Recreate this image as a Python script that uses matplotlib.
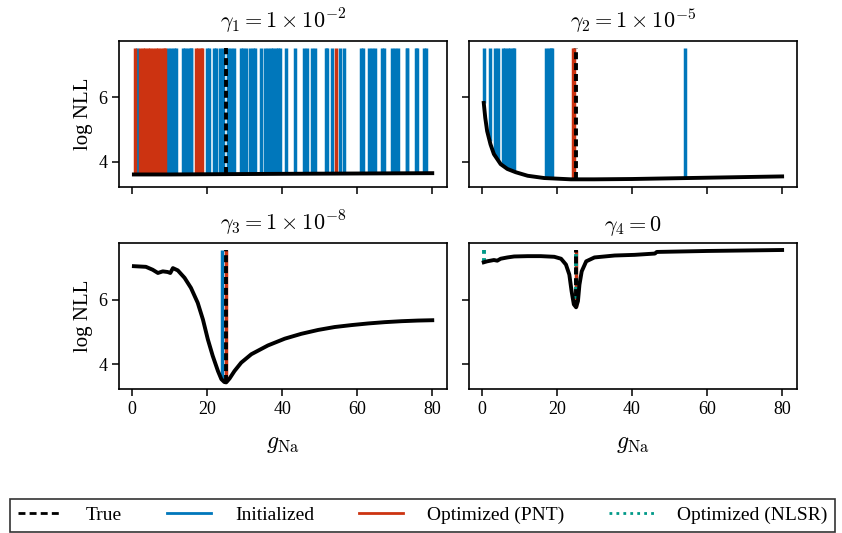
import numpy as np
import matplotlib
matplotlib.use("Agg")
import matplotlib.pyplot as plt
from matplotlib.lines import Line2D

plt.rcParams['font.family'] = ['Liberation Serif', 'DejaVu Serif']
plt.rcParams['mathtext.fontset'] = 'cm'

# loss curves (log NLL vs g_Na) for each regularisation strength
x1 = [0.5, 10, 25, 40, 60, 80]
nll1 = [3.61, 3.61, 3.62, 3.63, 3.64, 3.65]

x2 = [0.5, 0.9, 1.4, 2.3, 3.2, 5.0, 6.8, 9.0, 12.2, 16.6, 23.7, 30, 40, 50, 60, 70, 80]
nll2 = [5.82, 5.36, 4.95, 4.54, 4.24, 3.93, 3.78, 3.68, 3.57, 3.50, 3.46, 3.46, 3.47, 3.49, 3.51, 3.53, 3.55]

x3 = [0.5, 3.7, 5.5, 6.9, 8.2, 9.5, 10.2, 10.9, 12.2, 14.0, 15.7, 17.5, 18.9, 20.2, 21.5, 22.9,
      23.8, 24.6, 25.1, 26.0, 27.3, 29.1, 31.8, 36.2, 40.7, 45.1, 49.6, 54.0, 58.5, 62.9, 67.3,
      71.8, 76.2, 80]
nll3 = [7.03, 7.01, 6.92, 6.82, 6.87, 6.85, 6.82, 6.97, 6.90, 6.67, 6.36, 5.90, 5.38, 4.77, 4.26, 3.79,
        3.54, 3.45, 3.44, 3.56, 3.79, 4.05, 4.31, 4.58, 4.79, 4.94, 5.06, 5.15, 5.21, 5.26, 5.30,
        5.33, 5.35, 5.36]

x4 = [0.5, 1.4, 3.2, 4.1, 5.0, 6.8, 8.6, 12.2, 15.7, 19.3, 21.1, 22.4, 23.3, 23.9, 24.5, 25.1,
      25.6, 26.0, 26.6, 27.8, 30.0, 35.4, 40.7, 46.1, 46.6, 60, 80]
nll4 = [7.15, 7.18, 7.22, 7.20, 7.26, 7.30, 7.33, 7.34, 7.34, 7.32, 7.26, 7.08, 6.77, 6.26, 5.85, 5.76,
        5.95, 6.46, 6.87, 7.18, 7.30, 7.36, 7.38, 7.42, 7.47, 7.50, 7.53]

# parameter values: true, initial guesses, optimised (PNT / NLSR)
g_true = 25.0

init1 = [1.4, 9.7, 10.4, 11.1, 11.8, 13.5, 14.2, 14.9, 15.6, 15.8, 19.9, 20.6, 21.9, 22.4,
         23.4, 24.2, 25.7, 26.4, 27.3, 29.0, 29.7, 30.3, 31.5, 32.2, 32.7, 34.3, 35.5, 36.2,
         36.9, 37.6, 38.3, 39.0, 39.3, 41.0, 43.3, 45.7, 46.7, 47.9, 48.7, 51.7, 52.0, 53.2,
         55.4, 56.4, 61.0, 61.6, 63.2, 63.9, 64.8, 66.6, 67.1, 69.4, 70.1, 70.9, 73.2, 73.3,
         75.6, 75.9, 77.8, 78.4]
pnt1 = [0.7, 2.1, 2.8, 3.5, 4.2, 4.9, 5.6, 6.3, 7.0, 7.7, 8.4, 8.7,
        17.0, 17.7, 18.4, 18.7, 54.4]
nlsr1 = []

init2 = [0.5, 2.1, 3.6, 4.2, 5.5, 6.2, 6.9, 7.6, 8.3, 8.5, 17.1, 17.8, 18.5, 18.6, 54.2]
pnt2 = [24.2, 24.5]
nlsr2 = []

init3 = [24.1]
pnt3 = [25.1]
nlsr3 = []

init4 = []
pnt4 = [25.0]
nlsr4 = [0.5, 25.0]

titles = [r'$\gamma_1 = 1\times10^{-2}$', r'$\gamma_2 = 1\times10^{-5}$',
          r'$\gamma_3 = 1\times10^{-8}$', r'$\gamma_4 = 0$']

panels = [(x1, nll1, init1, pnt1, nlsr1), (x2, nll2, init2, pnt2, nlsr2),
          (x3, nll3, init3, pnt3, nlsr3), (x4, nll4, init4, pnt4, nlsr4)]

c_init = '#0077BB'
c_pnt = '#CC3311'
c_nlsr = '#009988'
lw = 2.5
dash = (0, (1.8, 1.0))
dot = (0, (1.0, 1.1))

top = max(max(nll1), max(nll2), max(nll3), max(nll4))

fig, axes = plt.subplots(2, 2, figsize=(8.42, 5.33), dpi=100, sharex=True, sharey=True)
fig.subplots_adjust(left=0.1413, right=0.9466, top=0.9231, bottom=0.2702, wspace=0.066, hspace=0.39)

for ax, (xs, ys, ini, pnt, nls), t in zip(axes.flat, panels, titles):
    if ini:
        ax.vlines(ini, np.interp(ini, xs, ys), top, color=c_init, lw=lw, zorder=1)
    if pnt:
        ax.vlines(pnt, np.interp(pnt, xs, ys), top, color=c_pnt, lw=lw, zorder=2)
    if nls:
        ax.vlines(nls, np.interp(nls, xs, ys), top, color=c_nlsr, lw=2.8, linestyles=[dot], zorder=3)
    ax.vlines([g_true], np.interp([g_true], xs, ys), top, color='black', lw=2.8,
              linestyles=[dash], zorder=4)
    ax.plot(xs, ys, color='black', lw=2.8, zorder=5)
    ax.set_title(t, fontsize=16, pad=9)
    ax.set_yticks([4, 6])
    ax.set_xticks([0, 20, 40, 60, 80])
    ax.tick_params(labelsize=13, length=5, width=1.1)
    for s in ax.spines.values():
        s.set_linewidth(1.2)

for ax in axes[:, 0]:
    ax.set_ylabel('log NLL', fontsize=15)
for ax in axes[1, :]:
    ax.set_xlabel(r'$g_{\mathrm{Na}}$', fontsize=17, labelpad=12)

handles = [Line2D([], [], color='black', lw=2, linestyle=(0, (2.5, 1.5))),
           Line2D([], [], color=c_init, lw=2),
           Line2D([], [], color=c_pnt, lw=2),
           Line2D([], [], color=c_nlsr, lw=2, linestyle=(0, (1, 1.5)))]
labels = ['True', 'Initialized', 'Optimized (PNT)', 'Optimized (NLSR)']
leg = fig.legend(handles, labels, loc='lower left', ncol=4, mode='expand',
                 bbox_to_anchor=(10 / 842, 1 / 533, 825 / 842, 42 / 533),
                 fontsize=14, fancybox=False, edgecolor='#333333', framealpha=1,
                 handlelength=2.3, handletextpad=1.2, borderaxespad=0)
leg.get_frame().set_linewidth(1.2)

fig.savefig('out.png', dpi=100)
